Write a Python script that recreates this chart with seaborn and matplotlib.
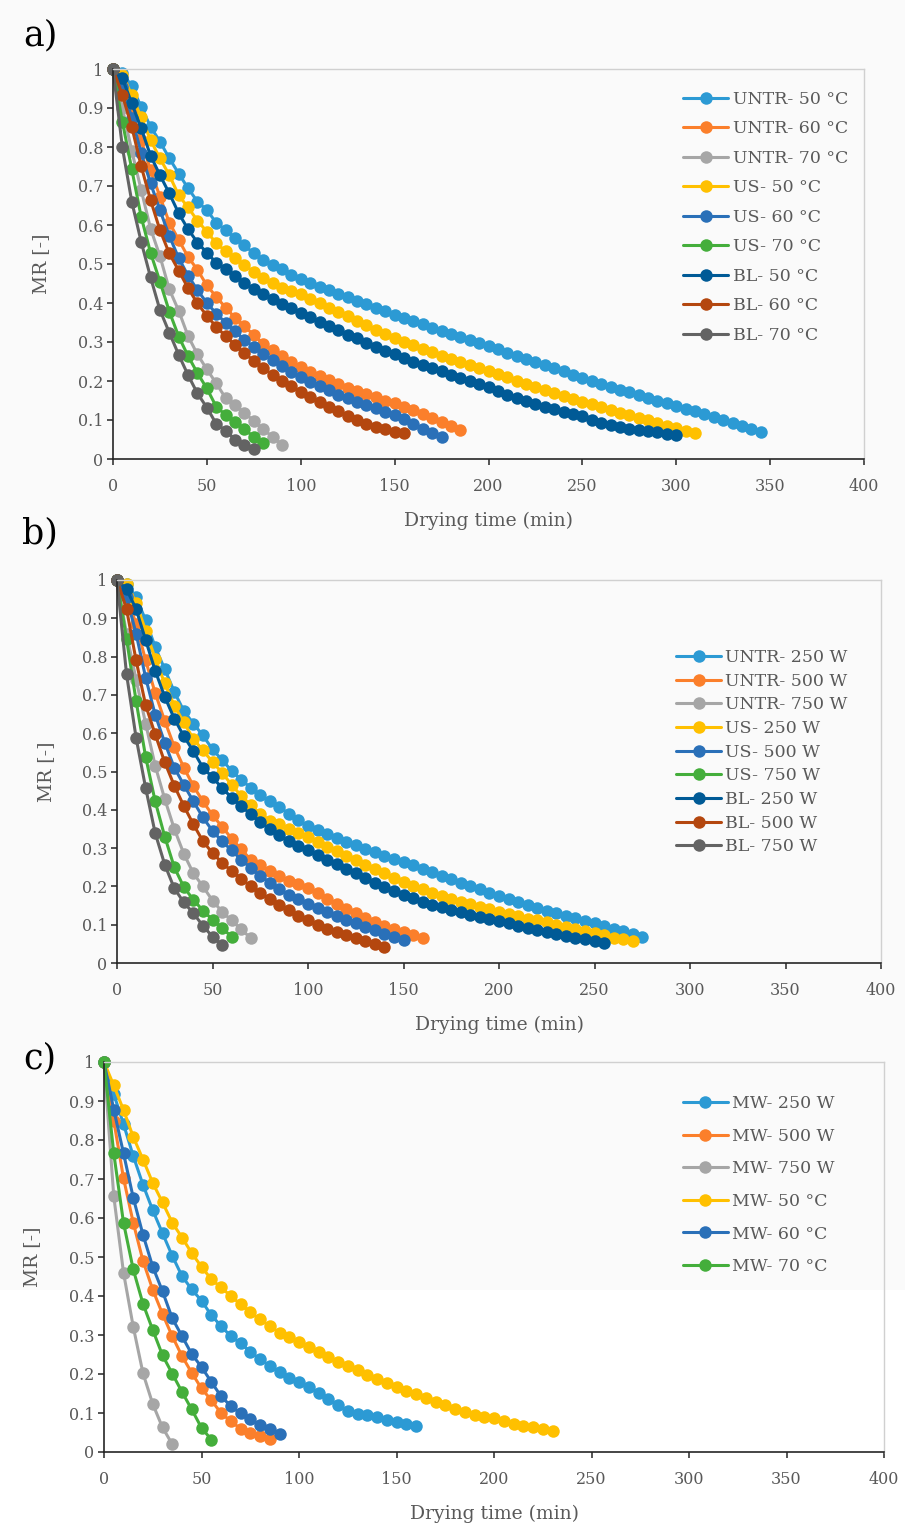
import matplotlib
matplotlib.use("Agg")
import matplotlib.pyplot as plt
from matplotlib.lines import Line2D
from matplotlib.patches import Rectangle
from matplotlib.ticker import FuncFormatter
import numpy as np
import pandas as pd
import seaborn as sns

# ── Data (MR read every 5 min) ────────────────────────────────────────────────
STEP_MIN = 5

# a) convective drying
untr_50c = [1.0, 0.99, 0.956, 0.903, 0.852, 0.814, 0.771, 0.732, 0.694, 0.66, 0.638, 0.606, 0.587, 0.566,
            0.548, 0.527, 0.51, 0.498, 0.486, 0.473, 0.461, 0.451, 0.442, 0.433, 0.424, 0.415, 0.406, 0.397,
            0.388, 0.379, 0.37, 0.361, 0.353, 0.345, 0.337, 0.329, 0.321, 0.313, 0.305, 0.297, 0.289, 0.281,
            0.273, 0.265, 0.257, 0.249, 0.241, 0.233, 0.225, 0.216, 0.207, 0.199, 0.192, 0.185, 0.178, 0.171,
            0.164, 0.157, 0.15, 0.143, 0.136, 0.129, 0.122, 0.115, 0.108, 0.101, 0.093, 0.085, 0.077, 0.068]
untr_60c = [1.0, 0.96, 0.891, 0.818, 0.74, 0.673, 0.606, 0.562, 0.518, 0.485, 0.445, 0.416, 0.388, 0.362,
            0.34, 0.318, 0.296, 0.279, 0.263, 0.249, 0.235, 0.224, 0.213, 0.202, 0.192, 0.182, 0.174, 0.166,
            0.158, 0.15, 0.143, 0.134, 0.125, 0.115, 0.104, 0.094, 0.085, 0.075]
untr_70c = [1.0, 0.9, 0.79, 0.69, 0.591, 0.52, 0.435, 0.38, 0.315, 0.268, 0.23, 0.194, 0.156, 0.138,
            0.119, 0.097, 0.076, 0.057, 0.036]
us_50c = [1.0, 0.985, 0.933, 0.876, 0.818, 0.771, 0.728, 0.676, 0.645, 0.611, 0.583, 0.553, 0.533, 0.515,
          0.497, 0.48, 0.465, 0.451, 0.438, 0.432, 0.423, 0.411, 0.399, 0.388, 0.377, 0.366, 0.354, 0.343,
          0.332, 0.321, 0.31, 0.301, 0.292, 0.283, 0.274, 0.265, 0.257, 0.249, 0.241, 0.233, 0.225, 0.217,
          0.209, 0.201, 0.193, 0.185, 0.178, 0.17, 0.162, 0.155, 0.147, 0.14, 0.133, 0.126, 0.119, 0.112,
          0.105, 0.099, 0.092, 0.085, 0.079, 0.073, 0.067]
us_60c = [1.0, 0.955, 0.875, 0.785, 0.707, 0.638, 0.572, 0.515, 0.47, 0.433, 0.4, 0.373, 0.349, 0.327,
          0.306, 0.287, 0.27, 0.254, 0.238, 0.224, 0.21, 0.198, 0.187, 0.176, 0.165, 0.156, 0.147, 0.138,
          0.13, 0.121, 0.113, 0.103, 0.091, 0.078, 0.066, 0.056]
us_70c = [1.0, 0.865, 0.743, 0.621, 0.529, 0.455, 0.378, 0.314, 0.264, 0.22, 0.181, 0.134, 0.113, 0.096,
          0.076, 0.057, 0.04]
bl_50c = [1.0, 0.976, 0.912, 0.848, 0.778, 0.728, 0.681, 0.63, 0.589, 0.555, 0.529, 0.503, 0.488, 0.468,
          0.452, 0.436, 0.422, 0.409, 0.397, 0.386, 0.375, 0.363, 0.352, 0.341, 0.33, 0.319, 0.309, 0.298,
          0.288, 0.278, 0.268, 0.259, 0.25, 0.242, 0.233, 0.225, 0.216, 0.208, 0.2, 0.192, 0.184, 0.175,
          0.165, 0.156, 0.148, 0.14, 0.133, 0.127, 0.121, 0.116, 0.111, 0.101, 0.092, 0.086, 0.081, 0.077,
          0.074, 0.071, 0.068, 0.065, 0.062]
bl_60c = [1.0, 0.933, 0.852, 0.751, 0.664, 0.587, 0.527, 0.483, 0.438, 0.399, 0.367, 0.339, 0.315, 0.292,
          0.271, 0.252, 0.233, 0.216, 0.2, 0.186, 0.172, 0.159, 0.146, 0.134, 0.122, 0.11, 0.1, 0.091,
          0.083, 0.076, 0.07, 0.066]
bl_70c = [1.0, 0.799, 0.66, 0.557, 0.466, 0.382, 0.324, 0.267, 0.215, 0.168, 0.132, 0.09, 0.073, 0.05,
          0.036, 0.025]

# b) microwave drying
untr_250w = [1.0, 0.99, 0.955, 0.895, 0.825, 0.767, 0.708, 0.658, 0.625, 0.594, 0.558, 0.53, 0.502, 0.479,
             0.457, 0.438, 0.422, 0.407, 0.39, 0.373, 0.358, 0.347, 0.336, 0.326, 0.316, 0.307, 0.298, 0.289,
             0.28, 0.272, 0.264, 0.255, 0.246, 0.237, 0.228, 0.219, 0.21, 0.201, 0.192, 0.183, 0.174, 0.166,
             0.158, 0.151, 0.144, 0.137, 0.13, 0.123, 0.117, 0.11, 0.104, 0.097, 0.09, 0.083, 0.075, 0.068]
untr_500w = [1.0, 0.96, 0.885, 0.79, 0.705, 0.632, 0.565, 0.51, 0.462, 0.422, 0.386, 0.356, 0.325, 0.297,
             0.27, 0.255, 0.241, 0.228, 0.215, 0.205, 0.195, 0.182, 0.168, 0.155, 0.142, 0.13, 0.118, 0.107,
             0.097, 0.088, 0.08, 0.072, 0.065]
untr_750w = [1.0, 0.86, 0.74, 0.625, 0.515, 0.428, 0.35, 0.285, 0.234, 0.2, 0.163, 0.134, 0.111, 0.088, 0.065]
us_250w = [1.0, 0.99, 0.94, 0.868, 0.795, 0.73, 0.672, 0.628, 0.585, 0.555, 0.525, 0.497, 0.465, 0.437,
           0.412, 0.39, 0.372, 0.362, 0.35, 0.339, 0.328, 0.316, 0.304, 0.292, 0.28, 0.268, 0.257, 0.246,
           0.235, 0.223, 0.212, 0.202, 0.192, 0.183, 0.175, 0.167, 0.16, 0.153, 0.146, 0.14, 0.134, 0.128,
           0.122, 0.116, 0.111, 0.106, 0.1, 0.094, 0.089, 0.084, 0.079, 0.073, 0.066, 0.062, 0.058]
us_500w = [1.0, 0.955, 0.86, 0.745, 0.648, 0.575, 0.51, 0.465, 0.422, 0.38, 0.345, 0.318, 0.294, 0.27,
           0.248, 0.228, 0.21, 0.193, 0.178, 0.166, 0.155, 0.143, 0.132, 0.122, 0.112, 0.104, 0.095, 0.086,
           0.077, 0.069, 0.06]
us_750w = [1.0, 0.846, 0.684, 0.538, 0.422, 0.33, 0.25, 0.198, 0.165, 0.137, 0.113, 0.091, 0.069]
bl_250w = [1.0, 0.976, 0.924, 0.843, 0.763, 0.695, 0.638, 0.592, 0.553, 0.51, 0.485, 0.457, 0.432, 0.41,
           0.388, 0.368, 0.349, 0.333, 0.318, 0.306, 0.295, 0.283, 0.27, 0.258, 0.246, 0.234, 0.222, 0.21,
           0.199, 0.188, 0.178, 0.169, 0.16, 0.152, 0.145, 0.138, 0.132, 0.126, 0.12, 0.115, 0.11, 0.104,
           0.097, 0.091, 0.085, 0.08, 0.075, 0.07, 0.066, 0.062, 0.058, 0.053]
bl_500w = [1.0, 0.924, 0.79, 0.673, 0.597, 0.524, 0.463, 0.41, 0.362, 0.318, 0.287, 0.262, 0.24, 0.22,
           0.2, 0.182, 0.167, 0.152, 0.138, 0.124, 0.112, 0.1, 0.09, 0.081, 0.073, 0.066, 0.058, 0.05, 0.043]
bl_750w = [1.0, 0.754, 0.588, 0.457, 0.339, 0.257, 0.195, 0.158, 0.13, 0.097, 0.069, 0.047]

# c) microwave-only pretreatment
mw_250w = [1.0, 0.918, 0.841, 0.759, 0.685, 0.62, 0.561, 0.503, 0.451, 0.417, 0.388, 0.351, 0.323, 0.297,
           0.279, 0.257, 0.238, 0.221, 0.206, 0.191, 0.18, 0.166, 0.152, 0.135, 0.12, 0.106, 0.097, 0.094,
           0.09, 0.083, 0.076, 0.072, 0.066]
mw_500w = [1.0, 0.85, 0.702, 0.588, 0.49, 0.416, 0.354, 0.297, 0.246, 0.203, 0.163, 0.133, 0.1, 0.079,
           0.06, 0.049, 0.04, 0.033]
mw_750w = [1.0, 0.656, 0.46, 0.321, 0.202, 0.123, 0.063, 0.02]
mw_50c = [1.0, 0.94, 0.877, 0.808, 0.75, 0.69, 0.64, 0.588, 0.55, 0.51, 0.475, 0.443, 0.422, 0.4, 0.379,
          0.358, 0.34, 0.323, 0.306, 0.294, 0.283, 0.27, 0.257, 0.243, 0.23, 0.22, 0.21, 0.198, 0.186, 0.176,
          0.166, 0.157, 0.148, 0.138, 0.128, 0.12, 0.111, 0.103, 0.096, 0.09, 0.086, 0.08, 0.072, 0.066,
          0.063, 0.059, 0.053]
mw_60c = [1.0, 0.878, 0.766, 0.652, 0.557, 0.475, 0.412, 0.343, 0.297, 0.251, 0.218, 0.18, 0.143, 0.118,
          0.099, 0.084, 0.07, 0.058, 0.045]
mw_70c = [1.0, 0.766, 0.588, 0.468, 0.38, 0.313, 0.248, 0.201, 0.154, 0.109, 0.062, 0.032]

labels_a = ["UNTR- 50 °C", "UNTR- 60 °C", "UNTR- 70 °C", "US- 50 °C", "US- 60 °C", "US- 70 °C",
            "BL- 50 °C", "BL- 60 °C", "BL- 70 °C"]
labels_b = ["UNTR- 250 W", "UNTR- 500 W", "UNTR- 750 W", "US- 250 W", "US- 500 W", "US- 750 W",
            "BL- 250 W", "BL- 500 W", "BL- 750 W"]
labels_c = ["MW- 250 W", "MW- 500 W", "MW- 750 W", "MW- 50 °C", "MW- 60 °C", "MW- 70 °C"]

series_a = [untr_50c, untr_60c, untr_70c, us_50c, us_60c, us_70c, bl_50c, bl_60c, bl_70c]
series_b = [untr_250w, untr_500w, untr_750w, us_250w, us_500w, us_750w, bl_250w, bl_500w, bl_750w]
series_c = [mw_250w, mw_500w, mw_750w, mw_50c, mw_60c, mw_70c]

x_ticks = [0, 50, 100, 150, 200, 250, 300, 350, 400]
y_ticks = [0, 0.1, 0.2, 0.3, 0.4, 0.5, 0.6, 0.7, 0.8, 0.9, 1]

# ── Style ─────────────────────────────────────────────────────────────────────
colors = ["#2C9AD4", "#FB7F2B", "#A6A6A6", "#FFC000", "#2A70B8", "#44AE3B",
          "#005A96", "#B4470F", "#636363"]
BG = "#FAFAFA"
TXT = "#595959"
MS = 9.0   # marker size (pt)
LW = 2.2   # line width (pt)

sns.set_style("ticks")
plt.rcParams["font.family"] = ["DejaVu Serif"]


def long_frame(labels, series):
    rows = []
    for lab, vals in zip(labels, series):
        for i, v in enumerate(vals):
            rows.append({"series": lab, "time": i * STEP_MIN, "mr": v})
    return pd.DataFrame(rows)


def draw_panel(ax, labels, series, legend_xy, labelspacing, ylab_pad):
    df = long_frame(labels, series)
    pal = colors[:len(labels)]
    sns.lineplot(
        data=df, x="time", y="mr", hue="series", hue_order=labels, palette=pal,
        marker="o", markersize=MS, markeredgewidth=0, linewidth=LW,
        estimator=None, legend=False, clip_on=False, ax=ax,
    )
    ax.set_xlim(0, 400)
    ax.set_ylim(0, 1)
    ax.set_xticks(x_ticks)
    ax.set_yticks(y_ticks)
    ax.yaxis.set_major_formatter(FuncFormatter(lambda v, _: f"{v:g}"))
    ax.set_facecolor("none")
    for side in ["top", "right"]:
        ax.spines[side].set_color("#D0D0D0")
        ax.spines[side].set_linewidth(1.0)
    for side in ["left", "bottom"]:
        ax.spines[side].set_color("#262626")
        ax.spines[side].set_linewidth(1.2)
    ax.tick_params(direction="out", length=4, width=1.1, color="#262626",
                   labelsize=11.5, labelcolor=TXT)
    ax.tick_params(axis="x", pad=10)
    ax.tick_params(axis="y", pad=3)
    ax.set_xlabel("Drying time (min)", fontsize=13.5, color=TXT, labelpad=12)
    ax.set_ylabel("MR [-]", fontsize=13.5, color=TXT, labelpad=ylab_pad)

    handles = [Line2D([0], [0], color=c, lw=LW, marker="o", markersize=MS,
                      markeredgewidth=0) for c in pal]
    ax.legend(handles, labels, loc="upper left", bbox_to_anchor=legend_xy,
              borderaxespad=0, frameon=False, fontsize=12.5, labelcolor=TXT,
              handlelength=2.6, handletextpad=0.25, labelspacing=labelspacing)


fig = plt.figure(figsize=(9.05, 15.32), dpi=100, facecolor=BG)
# lower part of the page is plain white in the source
fig.patches.append(Rectangle((0, 0), 1, 1 - 1290 / 1532, transform=fig.transFigure,
                             facecolor="white", edgecolor="none", zorder=-10))

W, H = 905, 1532


def axes_px(x0, x1, y0, y1):
    return fig.add_axes([x0 / W, 1 - y1 / H, (x1 - x0) / W, (y1 - y0) / H])


ax_a = axes_px(113, 864, 69, 459)
ax_b = axes_px(117, 881, 580, 963)
ax_c = axes_px(104, 884, 1062, 1452)

draw_panel(ax_a, labels_a, series_a, (0.75, 0.962), 0.72, 20)
draw_panel(ax_b, labels_b, series_b, (0.7225, 0.838), 0.385, 19)
draw_panel(ax_c, labels_c, series_c, (0.733, 0.933), 0.9, 20)

for txt, y in [("a)", 35), ("b)", 533), ("c)", 1058)]:
    fig.text(40 / W, 1 - y / H, txt, fontsize=25, color="black", ha="center", va="center")

fig.savefig("out.png", dpi=100, facecolor=fig.get_facecolor())
